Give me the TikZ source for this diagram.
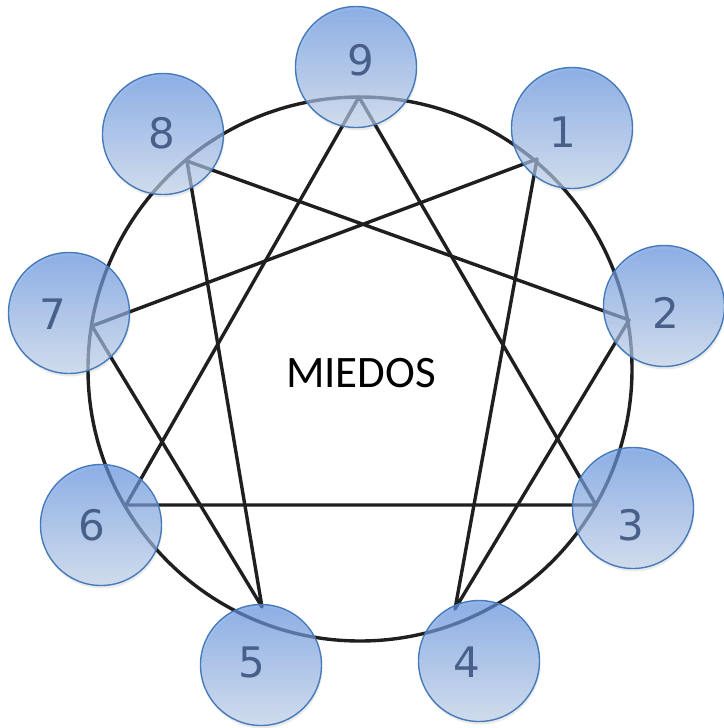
\documentclass[tikz,border=0pt]{standalone}
\usepackage{fontspec}
\newfontfamily\digitfont{DejaVu Sans}
\newfontfamily\labelfont{Carlito}
\definecolor{ringblue}{RGB}{70,122,185}
\definecolor{topblue}{RGB}{95,145,225}
\definecolor{botblue}{RGB}{195,212,236}
\definecolor{digitcol}{RGB}{72,95,138}
\begin{document}
\begin{tikzpicture}[x=1pt,y=-1pt,
  edge/.style={line width=3.4pt,black!88,line cap=round,line join=round},
  ball/.style={circle,minimum size=121pt,inner sep=0pt,draw=ringblue,line width=1.4pt,
    top color=topblue,bottom color=botblue,fill opacity=0.68,draw opacity=1},
  shade/.style={circle,minimum size=121pt,inner sep=0pt,fill=black,fill opacity=0.08},
  digit/.style={font=\digitfont\fontsize{42}{42}\selectfont,text=digitcol}]
\useasboundingbox (0,0) rectangle (723,728);
% big circle
\node[circle,draw=black!88,line width=3.4pt,minimum size=544pt,inner sep=0pt] (ring) at (360,369) {};
% vertices
\coordinate (v9) at (359,97);
\coordinate (v8) at (187,161);
\coordinate (v7) at (92,326);
\coordinate (v6) at (126,505);
\coordinate (v5) at (262,607);
\coordinate (v4) at (455,609);
\coordinate (v3) at (596,505);
\coordinate (v2) at (629,320);
\coordinate (v1) at (537,159);
% triangle
\draw[edge] (v9) -- (v3) -- (v6) -- cycle;
% hexad
\draw[edge] (v1) -- (v4) -- (v2) -- (v8) -- (v5) -- (v7) -- cycle;
% text
\node[font=\labelfont\fontsize{45}{45}\selectfont] (t) at (361,373) {MIEDOS};
% shadows
\foreach \px/\py in {356/67,163/134,572/128,69/313,664/306,101/525,633/508,261/665,479/661}
  \node[shade] at (\px+1,\py+3) {};
% balls
\node[ball] (b9) at (356,67) {};
\node[ball] (b8) at (163,134) {};
\node[ball] (b1) at (572,128) {};
\node[ball] (b7) at (69,313) {};
\node[ball] (b2) at (664,306) {};
\node[ball] (b6) at (101,525) {};
\node[ball] (b3) at (633,508) {};
\node[ball] (b5) at (261,665) {};
\node[ball] (b4) at (479,661) {};
% digits
\node[digit] (d9) at (361,60) {9};
\node[digit] (d8) at (162,133) {8};
\node[digit] (d1) at (563,132) {1};
\node[digit] (d7) at (53,314) {7};
\node[digit] (d2) at (666,313) {2};
\node[digit] (d6) at (92,525) {6};
\node[digit] (d3) at (631,525) {3};
\node[digit] (d5) at (252,662) {5};
\node[digit] (d4) at (467,662) {4};
\end{tikzpicture}
\end{document}
